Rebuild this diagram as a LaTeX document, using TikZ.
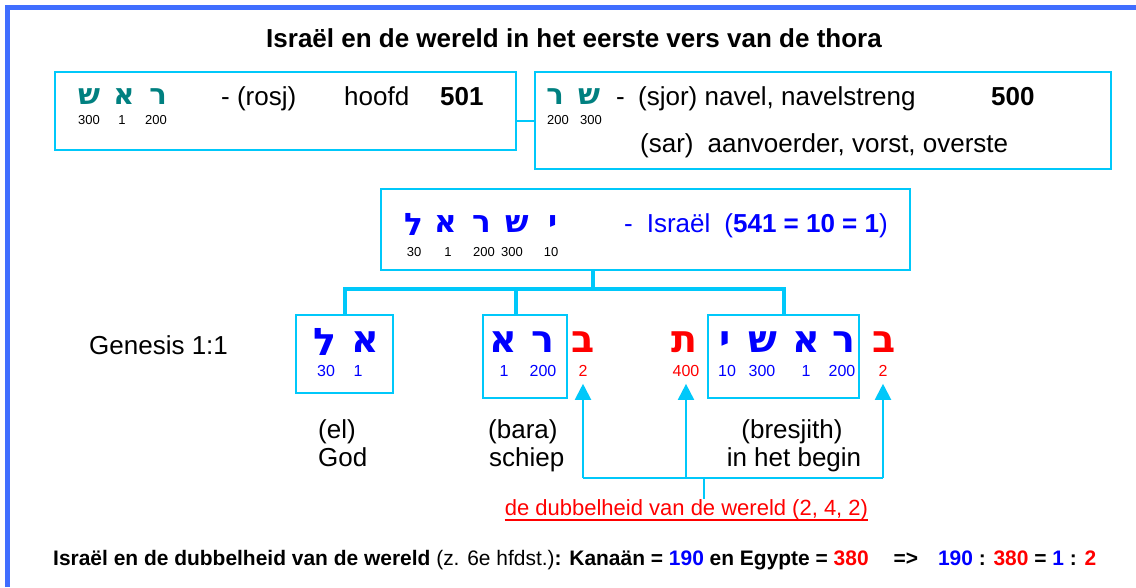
\documentclass[tikz,border=0pt]{standalone}
\usepackage{fontspec}
\setmainfont{Liberation Sans}
\newfontfamily\hebfont[Script=Hebrew]{DejaVu Sans}
\usetikzlibrary{arrows.meta}
\definecolor{frameblue}{RGB}{64,110,255}
\definecolor{cyanc}{RGB}{0,200,250}
\definecolor{tealc}{RGB}{0,128,128}
\definecolor{hblue}{RGB}{0,0,255}
\definecolor{hred}{RGB}{255,0,0}
\tikzset{
  box/.style={draw=cyanc, line width=2.5pt, rectangle, inner sep=0pt},
  treeline/.style={draw=cyanc, line width=4pt},
  thinline/.style={draw=cyanc, line width=2pt},
  uparrow/.style={draw=cyanc, line width=2pt, -{Triangle[width=16pt,length=16pt]}},
  txt/.style={font=\fontsize{26}{30}\selectfont, inner sep=0pt, anchor=base west},
  hebA/.style={font=\hebfont\bfseries\fontsize{29}{32}\selectfont, text=tealc, inner sep=0pt},
  hebC/.style={font=\hebfont\bfseries\fontsize{31}{34}\selectfont, text=hblue, inner sep=0pt},
  hebD/.style={font=\hebfont\bfseries\fontsize{38}{42}\selectfont, text=hblue, inner sep=0pt},
  numS/.style={font=\fontsize{13}{15}\selectfont, inner sep=0pt},
  numD/.style={font=\fontsize{16}{18}\selectfont, text=hblue, inner sep=0pt},
}
\begin{document}
\begin{tikzpicture}[x=1pt,y=-1pt]
\useasboundingbox (0,0) rectangle (1136,587);
\fill[white] (0,0) rectangle (1136,587);
% frame
\draw[frameblue, line width=5pt] (7.5,587) -- (7.5,7.5) -- (1136,7.5);
% title
\node[font=\bfseries\fontsize{26}{30}\selectfont, anchor=base, inner sep=0pt] (title) at (574,47) {Israël en de wereld in het eerste vers van de thora};
% box A
\node[box, minimum width=461pt, minimum height=78pt] (A) at (285.5,111) {};
\node[hebA] (a1) at (89,97) {ש};
\node[hebA] (a2) at (124,97) {א};
\node[hebA] (a3) at (158,97) {ר};
\node[numS] (a1n) at (89,120) {300};
\node[numS] (a2n) at (122,120) {1};
\node[numS] (a3n) at (156,120) {200};
\node[txt] (a4) at (221,105) {- (rosj)};
\node[txt] (a5) at (344,105) {hoofd};
\node[txt, font=\bfseries\fontsize{26}{30}\selectfont] (a6) at (440,105) {501};
% box B
\node[box, minimum width=576pt, minimum height=97pt] (B) at (823,120.5) {};
\draw[thinline] (A.east |- B.west) -- (B.west);
\node[hebA] (b1) at (555,97) {ר};
\node[hebA] (b2) at (589,97) {ש};
\node[numS] (b1n) at (558,120) {200};
\node[numS] (b2n) at (591,120) {300};
\node[txt] (b3) at (616,105) {-};
\node[txt] (b4) at (638,105) {(sjor) navel, navelstreng};
\node[txt, font=\bfseries\fontsize{26}{30}\selectfont] (b5) at (991,105) {500};
\node[txt] (b6) at (640,152) {(sar)\hspace{14pt}aanvoerder, vorst, overste};
% box C
\node[box, minimum width=529pt, minimum height=81pt] (C) at (645.5,229.5) {};
\node[hebC] (c1) at (414,224) {ל};
\node[hebC] (c2) at (446,224) {א};
\node[hebC] (c3) at (482,224) {ר};
\node[hebC] (c4) at (517,224) {ש};
\node[hebC] (c5) at (553,224) {י};
\node[numS] (c1n) at (414,252) {30};
\node[numS] (c2n) at (448,252) {1};
\node[numS] (c3n) at (484,252) {200};
\node[numS] (c4n) at (512,252) {300};
\node[numS] (c5n) at (551,252) {10};
\node[txt, text=hblue] (c6) at (624,232) {-\hspace{14pt}Israël\hspace{14pt}(\textbf{541 = 10 = 1})};
% tree
\coordinate (bus) at (593,289);
\node[box, minimum width=97pt, minimum height=78pt] (D) at (344.5,354) {};
\node[box, minimum width=84pt, minimum height=83pt] (E) at (525,356.5) {};
\node[box, minimum width=151pt, minimum height=83pt] (F) at (783.5,356.5) {};
\draw[treeline] (C.south -| bus) -- (bus);
\draw[treeline] (D.north) |- (F.north |- bus) -- (F.north);
\draw[treeline] ([xshift=-9pt]E.north) -- ([xshift=-9pt]E.north |- bus);
% genesis
\node[txt] (gen) at (89,354) {Genesis 1:1};
% D letters
\node[hebD] (d1) at (325,342) {ל};
\node[hebD] (d2) at (365,342) {א};
\node[numD] (d1n) at (326,371) {30};
\node[numD] (d2n) at (358,371) {1};
% E letters
\node[hebD] (e1) at (503,342) {א};
\node[hebD] (e2) at (543,342) {ר};
\node[numD] (e1n) at (504,371) {1};
\node[numD] (e2n) at (543,371) {200};
\node[hebD, text=hred] (e3) at (583,342) {ב};
\node[numD, text=hred] (e3n) at (583,371) {2};
% F letters
\node[hebD, text=hred] (f0) at (684,342) {ת};
\node[numD, text=hred] (f0n) at (686,371) {400};
\node[hebD] (f1) at (725,342) {י};
\node[hebD] (f2) at (763,342) {ש};
\node[hebD] (f3) at (806,342) {א};
\node[hebD] (f4) at (844,342) {ר};
\node[numD] (f1n) at (727,371) {10};
\node[numD] (f2n) at (762,371) {300};
\node[numD] (f3n) at (806,371) {1};
\node[numD] (f4n) at (842,371) {200};
\node[hebD, text=hred] (f5) at (884,342) {ב};
\node[numD, text=hred] (f5n) at (883,371) {2};
% word labels
\node[txt] (w1) at (318,438) {(el)};
\node[txt] (w2) at (318,466) {God};
\node[txt] (w3) at (488,438) {(bara)};
\node[txt] (w4) at (489,466) {schiep};
\node[txt, anchor=base] (w5) at (792,438) {(bresjith)};
\node[txt, anchor=base] (w6) at (794,466) {in het begin};
% arrows
\coordinate (abus) at (704,478);
\draw[thinline] (e3n |- abus) -- (f5n |- abus);
\draw[uparrow, shorten >=7pt] (e3n |- abus) -- (e3n.south);
\draw[uparrow, shorten >=7pt] (f0n |- abus) -- (f0n.south);
\draw[uparrow, shorten >=7pt] (f5n |- abus) -- (f5n.south);
\node[font=\fontsize{22}{26}\selectfont, text=hred, inner sep=0pt, anchor=base] (dub) at (686.5,515) {de dubbelheid van de wereld (2, 4, 2)};
\draw[thinline] (abus) -- (abus |- dub.north);
\draw[hred, line width=1.8pt] ([yshift=-5pt]dub.base west) -- ([yshift=-5pt]dub.base east);
% bottom line
\node[inner sep=0pt, anchor=base west] (bot) at (53,565) {\resizebox{1043pt}{\height}{\fontsize{21}{25}\selectfont\textbf{Israël en de dubbelheid van de wereld} (z. 6e hfdst.)\textbf{: Kanaän = \textcolor{hblue}{190} en Egypte = \textcolor{hred}{380}\hspace{25pt}=>\hspace{20pt}\textcolor{hblue}{190} : \textcolor{hred}{380} = \textcolor{hblue}{1} : \textcolor{hred}{2}}}};
\end{tikzpicture}
\end{document}
